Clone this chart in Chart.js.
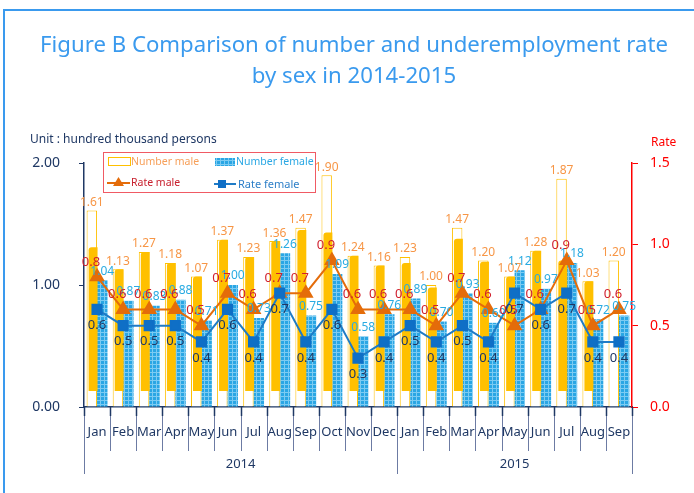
<!DOCTYPE html>
<html>
<head>
<meta charset="utf-8">
<script src="https://cdn.jsdelivr.net/npm/chart.js@4.4.0/dist/chart.umd.min.js"></script>
<style>
html,body{margin:0;padding:0;background:#fff;}
#wrap{width:694px;height:493px;position:relative;}
</style>
</head>
<body>
<div id="wrap"><canvas id="c" width="694" height="493"></canvas></div>
<script>
// ---- data ----
const months = ['Jan','Feb','Mar','Apr','May','Jun','Jul','Aug','Sep','Oct','Nov','Dec',
                'Jan','Feb','Mar','Apr','May','Jun','Jul','Aug','Sep'];
const years = ['2014','2015'];
const monthsPerYear = [12, 9];
const numberMale   = [1.61,1.13,1.27,1.18,1.07,1.37,1.23,1.36,1.47,1.90,1.24,1.16,
                      1.23,1.00,1.47,1.20,1.07,1.28,1.87,1.03,1.20];
// height of the solid yellow part inside each male bar (as drawn in the reference)
const numberMaleShade = [1.31,1.13,1.27,1.18,1.07,1.37,1.23,1.36,1.45,1.43,1.24,1.16,
                      1.18,0.98,1.38,1.19,1.07,1.28,1.20,1.03,0];
const numberFemale = [1.04,0.87,0.83,0.88,0.71,1.00,0.73,1.26,0.75,1.09,0.58,0.76,
                      0.89,0.70,0.93,0.69,1.12,0.97,1.18,0.72,0.75];
const rateMale     = [0.8,0.6,0.6,0.6,0.5,0.7,0.6,0.7,0.7,0.9,0.6,0.6,
                      0.6,0.5,0.7,0.6,0.5,0.6,0.9,0.5,0.6];
const rateFemale   = [0.6,0.5,0.5,0.5,0.4,0.6,0.4,0.7,0.4,0.6,0.3,0.4,
                      0.5,0.4,0.5,0.4,0.7,0.6,0.7,0.4,0.4];
const leftTicks = [0, 1, 2];
const rightTicks = [0, 0.5, 1.0, 1.5];

const FONT = '"Noto Sans", "DejaVu Sans", sans-serif';
const NAVY = '#1F3864';

// blue grid pattern for female bars
function makePattern(){
  const p = document.createElement('canvas');
  p.width = 4; p.height = 4;
  const g = p.getContext('2d');
  g.fillStyle = '#2AA6E4'; g.fillRect(0,0,4,4);
  g.fillStyle = '#7CCBF2'; g.fillRect(0,0,4,1); g.fillRect(0,0,1,4);
  return g.createPattern(p,'repeat');
}
const ctx0 = document.getElementById('c').getContext('2d');
const femalePattern = makePattern();

const decorPlugin = {
  id: 'decor',
  beforeDraw(chart){
    const c = chart.ctx;
    c.save();
    // frame
    c.strokeStyle = '#3A9AEE'; c.lineWidth = 2;
    c.beginPath(); c.moveTo(4, 493); c.lineTo(4, 10); c.lineTo(694, 10); c.stroke();
    // title
    c.fillStyle = '#3A9AEE';
    c.textAlign = 'center'; c.textBaseline = 'middle';
    const t1 = 'Figure B Comparison of number and underemployment rate';
    let fs = 21;
    c.font = fs + 'px ' + FONT;
    const w = c.measureText(t1).width;
    fs = fs * 628 / w;
    c.font = fs + 'px ' + FONT;
    c.fillText(t1, 354, 46);
    c.fillText('by sex in 2014-2015', 354, 77);
    // unit + rate
    c.textAlign = 'left';
    c.font = '12px ' + FONT;
    c.fillStyle = NAVY;
    c.fillText('Unit : hundred thousand persons', 30, 140);
    c.fillStyle = '#FF0000';
    c.fillText('Rate', 651, 143);
    c.restore();
  },
  afterDatasetDraw(chart, args){
    if (args.index !== 0) return;
    const c = chart.ctx;
    const ys = chart.scales.y;
    const meta = chart.getDatasetMeta(0);
    c.save();
    c.fillStyle = '#FFC000';
    meta.data.forEach((el, i) => {
      const v = numberMaleShade[i];
      if (!v) return;
      const top = ys.getPixelForValue(v);
      const bottom = ys.getPixelForValue(0) - 16;
      if (top >= bottom) return;
      const left = el.x - el.width/2 + 2;
      const right = el.x + el.width/2 + 0.5;
      c.beginPath();
      c.moveTo(left, bottom);
      c.lineTo(left, top + 3);
      c.quadraticCurveTo(left, top, left + 3, top);
      c.lineTo(right, top);
      c.lineTo(right, bottom);
      c.closePath();
      c.fill();
    });
    c.restore();
  },
  afterDatasetsDraw(chart){
    const c = chart.ctx;
    const area = chart.chartArea;
    c.save();
    // category separators
    const n = months.length;
    const step = (area.right - area.left) / n;
    const yearBounds = [0];
    monthsPerYear.reduce((a, m) => { yearBounds.push(a + m); return a + m; }, 0);
    for (let i = 0; i <= n; i++){
      const x = Math.round(area.left + i*step) + 0.5;
      const isYear = yearBounds.includes(i);
      c.strokeStyle = '#6C7BA3'; c.lineWidth = 1;
      c.beginPath(); c.moveTo(x, area.bottom); c.lineTo(x, isYear ? 474 : 451); c.stroke();
      c.strokeStyle = NAVY; c.lineWidth = 1.5;
      c.beginPath(); c.moveTo(x, area.bottom); c.lineTo(x, area.bottom + 9); c.stroke();
    }
    // year labels
    c.fillStyle = NAVY; c.font = '13px ' + FONT;
    c.textAlign = 'center'; c.textBaseline = 'middle';
    years.forEach((yr, k) => {
      const a = area.left + yearBounds[k]*step, b = area.left + yearBounds[k+1]*step;
      c.fillText(yr, (a+b)/2, 464);
    });

    // data labels
    c.font = '12px ' + FONT;
    const m0 = chart.getDatasetMeta(0), m1 = chart.getDatasetMeta(1);
    const m2 = chart.getDatasetMeta(2), m3 = chart.getDatasetMeta(3);
    m0.data.forEach((el, i) => {
      c.fillStyle = '#F79646';
      c.fillText(numberMale[i].toFixed(2), el.x, el.y - 8);
    });
    m1.data.forEach((el, i) => {
      c.fillStyle = '#29ABE2';
      c.fillText(numberFemale[i].toFixed(2), el.x, el.y - 9);
    });
    c.font = '13px ' + FONT;
    m2.data.forEach((el, i) => {
      c.fillStyle = '#D0202E';
      c.fillText(rateMale[i].toFixed(1), el.x - 6, el.y - 15);
    });
    m3.data.forEach((el, i) => {
      c.fillStyle = NAVY;
      c.fillText(rateFemale[i].toFixed(1), el.x, el.y + 16);
    });

    // legend
    const L = 103, T = 152, R = 315, B = 192;
    c.fillStyle = '#FFFFFF'; c.fillRect(L, T, R-L, B-T);
    c.strokeStyle = '#F05A64'; c.lineWidth = 1;
    c.strokeRect(L + 0.5, T + 0.5, R-L, B-T);
    c.textAlign = 'left'; c.font = '10.5px ' + FONT;
    // number male
    c.fillStyle = '#FFFFFF'; c.fillRect(108, 157, 22, 8);
    c.strokeStyle = '#FFC000'; c.strokeRect(108.5, 157.5, 22, 8);
    c.fillStyle = '#F7A05A'; c.fillText('Number male', 131, 162);
    // number female
    c.fillStyle = femalePattern; c.fillRect(215, 158, 20, 8);
    c.fillStyle = '#2BA8E4'; c.fillText('Number female', 236, 162);
    // rate male
    c.strokeStyle = '#E46C0A'; c.lineWidth = 2;
    c.beginPath(); c.moveTo(107, 183); c.lineTo(130, 183); c.stroke();
    c.fillStyle = '#E46C0A';
    c.beginPath(); c.moveTo(118.5, 177); c.lineTo(124, 186); c.lineTo(113, 186); c.closePath(); c.fill();
    c.fillStyle = '#C8202E'; c.fillText('Rate male', 131, 183);
    // rate female
    c.strokeStyle = '#1F7BC6';
    c.beginPath(); c.moveTo(214, 184); c.lineTo(236, 184); c.stroke();
    c.fillStyle = '#0F6FC6'; c.fillRect(218, 180, 8, 8);
    c.font = '11px ' + FONT;
    c.fillStyle = '#2D7FC8'; c.fillText('Rate female', 238, 185);
    c.restore();
  }
};

new Chart(ctx0, {
  data: {
    labels: months,
    datasets: [
      { type:'bar', label:'Number male', data:numberMale, yAxisID:'y',
        backgroundColor:'#FFFFFF', borderColor:'#FFC000', borderWidth:1, borderSkipped:'bottom',
        categoryPercentage:0.8, barPercentage:1.0, order:2 },
      { type:'bar', label:'Number female', data:numberFemale, yAxisID:'y',
        backgroundColor:femalePattern, borderWidth:0,
        categoryPercentage:0.8, barPercentage:1.0, order:3 },
      { type:'line', label:'Rate male', data:rateMale, yAxisID:'y1',
        borderColor:'#E46C0A', borderWidth:2, pointStyle:'triangle', pointRadius:7,
        pointBackgroundColor:'#E46C0A', pointBorderColor:'#E46C0A', tension:0, order:1 },
      { type:'line', label:'Rate female', data:rateFemale, yAxisID:'y1',
        borderColor:'#1F7BC6', borderWidth:2, pointStyle:'rect', pointRadius:6.5,
        pointBackgroundColor:'#0F6FC6', pointBorderColor:'#0F6FC6', tension:0, order:0 }
    ]
  },
  options: {
    responsive:false, animation:false, devicePixelRatio:1,
    layout:{ padding:{ top:163, left:0, right:0, bottom:0 } },
    plugins:{ legend:{display:false}, title:{display:false}, tooltip:{enabled:false} },
    scales:{
      x:{
        grid:{ display:false, drawTicks:false },
        border:{ display:true, color:NAVY, width:1.5 },
        ticks:{ color:NAVY, font:{ family:FONT, size:13 }, padding:17,
                maxRotation:0, minRotation:0, autoSkip:false },
        afterFit(s){ s.height = 86; }
      },
      y:{
        position:'left', min:0, max:2,
        afterBuildTicks(s){ s.ticks = leftTicks.map(v => ({value:v})); },
        grid:{ drawOnChartArea:false, drawTicks:true, tickLength:5, color:NAVY },
        border:{ display:true, color:NAVY, width:1.5 },
        ticks:{ color:NAVY, font:{ family:FONT, size:14 }, padding:19,
                callback:v => Number(v).toFixed(2) },
        afterFit(s){ s.width = 84; }
      },
      y1:{
        position:'right', min:0, max:1.5,
        afterBuildTicks(s){ s.ticks = rightTicks.map(v => ({value:v})); },
        grid:{ drawOnChartArea:false, drawTicks:true, tickLength:6, color:'#FF0000' },
        border:{ display:true, color:'#FF0000', width:1.5 },
        ticks:{ color:'#FF0000', font:{ family:FONT, size:14 }, padding:12,
                callback:v => Number(v).toFixed(1) },
        afterFit(s){ s.width = 62; }
      }
    }
  },
  plugins:[decorPlugin]
});
</script>
</body>
</html>
